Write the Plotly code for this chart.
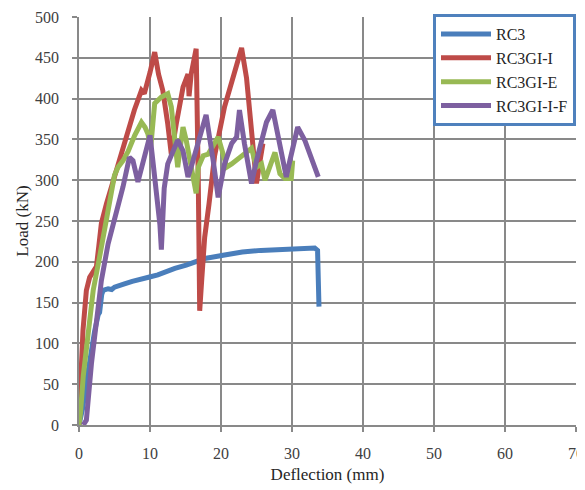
import plotly.graph_objects as go

# ---- data ----
rc3_x = [0, 0.5, 1.0, 1.6, 2.2, 2.7, 2.9, 3.2, 3.4, 4.1, 4.6, 5.0, 5.5, 6.4, 7.5, 8.8, 9.8,
         11.1, 12.5, 13.5, 15.1, 16.3, 17.7, 20.3, 23.0, 25.6, 28.2, 30.8, 32.4, 33.2, 33.6, 33.7, 33.8]
rc3_y = [0, 20, 50, 85, 115, 135, 138, 160, 165, 167, 166, 169, 170, 173, 176, 178, 181,
         184, 189, 192, 196, 199, 204, 208, 212, 214, 215, 216, 217, 217, 214, 195, 145]

gi_i_x = [0, 0.1, 0.3, 0.56, 0.8, 1.04, 1.5, 2.0, 2.45, 2.8, 3.15, 3.86, 4.5, 5.0, 6.4, 7.8, 8.8,
          9.2, 10.0, 10.4, 10.66, 11.2, 11.8, 12.5, 13.0, 13.7, 14.65, 15.35, 15.5, 15.8, 16.5,
          16.8, 17.0, 17.3, 17.7, 18.3, 19.1, 20.5, 21.5, 22.2, 22.9, 23.6, 24.3, 25.0, 25.5, 25.9]
gi_i_y = [0, 14, 65, 116, 145, 165, 181, 188, 194, 220, 247, 271, 290, 300, 341, 386, 410,
          406, 432, 445, 457, 430, 410, 369, 332, 369, 414, 430, 403, 430, 461,
          300, 140, 180, 230, 270, 330, 390, 420, 440, 462, 425, 360, 296, 324, 345]

gi_e_x = [0, 0.2, 0.6, 1.04, 2.0, 2.9, 3.5, 4.1, 4.6, 5.0, 5.5, 6.2, 6.9, 7.85, 8.8, 9.3, 9.7,
          10.1, 10.4, 10.66, 11.6, 12.5, 13.0, 13.5, 13.9, 14.4, 14.65, 15.1, 15.8, 16.5, 16.8,
          17.5, 18.2, 19.1, 19.6, 20.2, 20.8, 21.5, 22.6, 23.5, 24.3, 25.0, 25.7, 26.2, 27.1,
          27.6, 28.3, 29.0, 29.9, 30.1]
gi_e_y = [0, 14, 60, 96, 165, 206, 235, 259, 285, 306, 316, 324, 335, 355, 371, 365, 357,
          340, 369, 394, 402, 406, 390, 349, 316, 349, 365, 349, 316, 284, 316,
          330, 332, 345, 353, 335, 316, 320, 328, 335, 339, 316, 320, 300, 320,
          334, 308, 302, 302, 324]

gi_if_x = [0.6, 1.04, 1.75, 2.45, 3.15, 4.1, 5.27, 6.2, 7.1, 7.6, 8.3, 9.0, 10.0, 10.4, 11.0,
           11.4, 11.6, 12.0, 12.5, 13.0, 13.9, 14.65, 15.35, 15.8, 16.8, 17.7, 17.9, 18.9, 19.6,
           20.5, 21.5, 22.2, 22.6, 23.3, 24.3, 25.0, 26.4, 27.3, 27.8, 29.2, 29.7, 30.8, 31.8,
           33.0, 33.7]
gi_if_y = [0, 6, 75, 128, 177, 222, 259, 292, 328, 324, 298, 320, 355, 324, 280,
           245, 215, 290, 320, 330, 349, 336, 304, 316, 349, 373, 380, 324, 279,
           320, 345, 353, 386, 345, 296, 324, 371, 386, 365, 304, 324, 365, 349,
           320, 304]

names = ["RC3", "RC3GI-I", "RC3GI-E", "RC3GI-I-F"]
colors = ["#4A7EBB", "#BE4B48", "#98B954", "#7D60A0"]

x_ticks = [0, 10, 20, 30, 40, 50, 60, 70]
y_ticks = [0, 50, 100, 150, 200, 250, 300, 350, 400, 450, 500]

series = [(rc3_x, rc3_y), (gi_i_x, gi_i_y), (gi_e_x, gi_e_y), (gi_if_x, gi_if_y)]

fig = go.Figure()
for (xs, ys), name, col in zip(series, names, colors):
    fig.add_trace(go.Scatter(x=xs, y=ys, mode="lines", name=name,
                             line=dict(color=col, width=5, shape="linear")))

FF = "Liberation Serif"
grid_col = "#898989"

# the page body adds an 8px margin, so the figure is 8px smaller in each direction
fig.update_layout(
    width=577, height=482,
    margin=dict(l=71, r=9, t=9, b=65, autoexpand=False),
    paper_bgcolor="white", plot_bgcolor="white",
    font=dict(family=FF, size=16, color="#404040"),
    legend=dict(x=1.0, xanchor="right", y=1.007, yanchor="top",
                bordercolor="#4F81BD", borderwidth=3, bgcolor="white",
                font=dict(family=FF, size=16, color="#262626"),
                tracegroupgap=0, itemwidth=50),
    showlegend=True,
)
fig.update_xaxes(range=[0, 70], tickvals=x_ticks, showgrid=True, gridcolor=grid_col, gridwidth=1.5,
                 showline=True, linecolor=grid_col, linewidth=1.5, automargin=False,
                 ticks="outside", ticklen=5, tickcolor=grid_col, tickwidth=1.5,
                 ticklabelstandoff=8, zeroline=False,
                 title=dict(text="Deflection (mm)", font=dict(family=FF, size=17, color="#262626"), standoff=7),
                 tickfont=dict(family=FF, size=16, color="#404040"))
fig.update_yaxes(range=[0, 500], tickvals=y_ticks, showgrid=True, gridcolor=grid_col, gridwidth=1.5,
                 showline=True, linecolor=grid_col, linewidth=1.5, automargin=False,
                 ticks="outside", ticklen=5, tickcolor=grid_col, tickwidth=1.5,
                 ticklabelstandoff=10, zeroline=False,
                 title=dict(text="Load (kN)", font=dict(family=FF, size=17, color="#262626"), standoff=2),
                 tickfont=dict(family=FF, size=16, color="#404040"))

fig.write_html("out.html")
